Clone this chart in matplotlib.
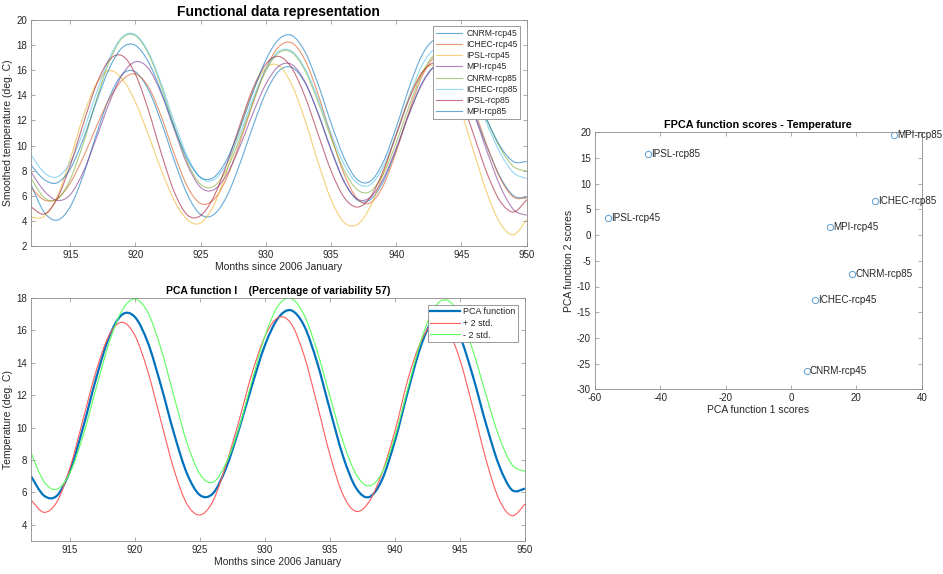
import matplotlib
matplotlib.use('Agg')
import matplotlib.pyplot as plt
from matplotlib.path import Path
from matplotlib.patches import PathPatch
from matplotlib.lines import Line2D

plt.rcParams['font.family'] = ['Liberation Sans', 'DejaVu Sans']
plt.rcParams['axes.unicode_minus'] = False

# ---------------- data ----------------
months = list(range(912, 951))

cnrm_rcp45 = [6.9, 4.7, 4.06, 5.11, 7.62, 10.85, 13.82, 15.68, 15.87, 14.44, 11.83, 8.77, 6.07, 4.51, 4.49,
              5.94, 8.51, 11.5, 14.2, 15.93, 16.22, 15.01, 12.62, 9.73, 7.17, 5.67, 5.68, 7.14, 9.69, 12.58,
              15.03, 16.38, 16.25, 14.82, 12.47, 9.78, 7.43, 6.0, 5.85]
ichec_rcp45 = [6.65, 5.67, 5.77, 7.0, 9.06, 11.48, 13.71, 15.22, 15.7, 14.67, 12.28, 9.3, 6.71, 5.38, 5.68,
               7.42, 10.21, 13.34, 16.13, 17.87, 18.17, 16.82, 14.11, 10.79, 7.74, 5.78, 5.43, 6.81, 9.52,
               12.76, 15.56, 17.1, 16.96, 15.39, 12.8, 9.87, 7.34, 5.89, 5.85]
ipsl_rcp45 = [4.3, 4.35, 5.9, 8.9, 12.3, 14.9, 15.96, 15.3, 13.47, 10.86, 8.02, 5.59, 4.08, 3.83, 5.22,
              7.97, 11.31, 14.32, 16.18, 16.36, 14.83, 12.04, 8.69, 5.7, 3.88, 3.7, 5.11, 7.77, 10.96, 13.91,
              15.89, 16.36, 15.2, 12.62, 9.31, 6.09, 3.75, 2.9, 4.1]
mpi_rcp45 = [7.9, 6.4, 5.63, 6.08, 7.89, 10.57, 13.4, 15.65, 16.67, 16.15, 14.11, 11.23, 8.44, 6.67, 6.47,
             7.68, 9.89, 12.53, 14.89, 16.33, 16.45, 15.08, 12.55, 9.64, 7.11, 5.74, 5.87, 7.35, 9.8, 12.57,
             14.95, 16.33, 16.32, 14.88, 12.39, 9.41, 6.69, 4.89, 4.45]
cnrm_rcp85 = [7.4, 5.86, 5.71, 7.28, 10.16, 13.61, 16.68, 18.56, 18.75, 17.3, 14.65, 11.47, 8.64, 6.91, 6.74,
              8.08, 10.53, 13.41, 15.94, 17.4, 17.41, 15.98, 13.49, 10.6, 8.04, 6.49, 6.34, 7.72, 10.24, 13.19,
              15.8, 17.3, 17.36, 16.22, 14.25, 11.89, 9.75, 8.32, 7.97]
ichec_rcp85 = [9.27, 7.85, 7.5, 8.64, 11.09, 14.15, 16.93, 18.66, 18.83, 17.44, 14.89, 11.83, 9.1, 7.43, 7.27,
               8.55, 10.91, 13.67, 16.11, 17.51, 17.51, 16.15, 13.75, 10.97, 8.5, 7.01, 6.88, 8.31, 10.92,
               13.92, 16.44, 17.72, 17.51, 16.18, 14.05, 11.59, 9.35, 7.83, 7.37]
ipsl_rcp85 = [5.13, 4.54, 5.76, 8.39, 11.71, 14.81, 16.81, 17.15, 15.69, 12.82, 9.34, 6.26, 4.46, 4.42, 5.9,
              8.5, 11.6, 14.5, 16.48, 17.1, 16.16, 13.92, 10.94, 8.0, 5.88, 5.1, 5.87, 7.98, 10.85, 13.73,
              15.83, 16.6, 15.8, 13.63, 10.66, 7.68, 5.51, 4.71, 5.69]
mpi_rcp85 = [8.45, 7.3, 7.03, 8.13, 10.5, 13.45, 16.14, 17.81, 17.98, 16.66, 14.25, 11.41, 8.91, 7.47, 7.46,
             8.86, 11.33, 14.21, 16.81, 18.47, 18.76, 17.47, 14.91, 11.81, 9.02, 7.3, 7.15, 8.68, 11.46, 14.65,
             17.25, 18.47, 18.11, 16.63, 14.39, 11.95, 9.89, 8.71, 8.74]

model_names = ['CNRM-rcp45', 'ICHEC-rcp45', 'IPSL-rcp45', 'MPI-rcp45',
               'CNRM-rcp85', 'ICHEC-rcp85', 'IPSL-rcp85', 'MPI-rcp85']
model_series = [cnrm_rcp45, ichec_rcp45, ipsl_rcp45, mpi_rcp45,
                cnrm_rcp85, ichec_rcp85, ipsl_rcp85, mpi_rcp85]

pca_function = [7.0, 5.8, 5.8, 7.34, 9.99, 13.01, 15.58, 16.97, 16.82, 15.22, 12.59, 9.64, 7.16, 5.83, 5.94,
                7.5, 9.9, 12.6, 15.1, 16.75, 17.24, 16.3, 14.05, 11.09, 8.24, 6.28, 5.71, 6.78, 9.2, 12.26,
                15.06, 16.79, 16.97, 15.63, 13.15, 10.23, 7.68, 6.15, 6.24]
plus_2std = [5.54, 4.77, 5.43, 7.52, 10.48, 13.47, 15.69, 16.5, 15.68, 13.43, 10.4, 7.4, 5.28, 4.61, 5.47,
             7.7, 10.43, 13.35, 15.64, 16.79, 16.43, 14.47, 11.48, 8.31, 5.85, 4.83, 5.42, 7.2, 9.8, 13.0,
             15.33, 16.48, 16.13, 14.17, 11.2, 8.03, 5.58, 4.56, 5.28]
minus_2std = [8.46, 6.66, 6.2, 7.22, 9.49, 12.4, 15.22, 17.23, 17.94, 17.09, 14.87, 11.92, 9.06, 7.12, 6.63,
              7.8, 9.99, 12.89, 15.65, 17.51, 17.97, 16.97, 14.75, 11.91, 9.14, 7.13, 6.4, 7.22, 9.45, 12.46,
              15.37, 17.37, 17.87, 16.89, 14.74, 12.02, 9.44, 7.71, 7.3]

score_names = ['CNRM-rcp45', 'ICHEC-rcp45', 'IPSL-rcp45', 'MPI-rcp45',
               'CNRM-rcp85', 'ICHEC-rcp85', 'IPSL-rcp85', 'MPI-rcp85']
pc1_scores = [4.8, 7.3, -56.0, 11.9, 18.8, 25.7, -43.9, 31.4]
pc2_scores = [-26.5, -12.7, 3.4, 1.5, -7.6, 6.7, 15.8, 19.4]

# ---------------- style ----------------
matlab_colors = ['#0072BD', '#D95319', '#EDB120', '#7E2F8E',
                 '#77AC30', '#4DBEEE', '#A2142F', '#0072BD']
edge_col = '#8a8a8a'
txt_col = '#262626'


def style(ax):
    ax.tick_params(direction='in', top=True, right=True, length=3, width=0.5,
                   color=edge_col, labelcolor=txt_col, labelsize=7, pad=3)
    for s in ax.spines.values():
        s.set_color(edge_col)
        s.set_linewidth(0.6)


def smooth_line(ax, x, y, **kw):
    """Draw the series as a smooth curve through its points (Catmull-Rom as cubic Bezier),
    in data coordinates of the axes."""
    n = len(x)
    verts = [(x[0], y[0])]
    codes = [Path.MOVETO]
    for i in range(n - 1):
        i0 = max(i - 1, 0)
        i3 = min(i + 2, n - 1)
        c1 = (x[i] + (x[i + 1] - x[i0]) / 6.0, y[i] + (y[i + 1] - y[i0]) / 6.0)
        c2 = (x[i + 1] - (x[i3] - x[i]) / 6.0, y[i + 1] - (y[i3] - y[i]) / 6.0)
        verts += [c1, c2, (x[i + 1], y[i + 1])]
        codes += [Path.CURVE4] * 3
    patch = PathPatch(Path(verts, codes), facecolor='none', **kw)
    ax.add_patch(patch)
    return patch


fig = plt.figure(figsize=(9.43, 5.74), dpi=100)

# ---- top-left: functional data ----
ax1 = fig.add_axes([31 / 943, 1 - 246 / 574, 495.7 / 943, 226 / 574])
handles1 = []
for name, ser, c in zip(model_names, model_series, matlab_colors):
    smooth_line(ax1, months, ser, edgecolor=c, lw=0.8, alpha=0.6)
    handles1.append(Line2D([], [], color=c, lw=0.8, alpha=0.6))
ax1.set_xlim(912, 950)
ax1.set_ylim(2, 20)
ax1.set_xticks([915, 920, 925, 930, 935, 940, 945, 950])
ax1.set_yticks(list(range(2, 21, 2)))
style(ax1)
ax1.set_title('Functional data representation', fontsize=10, fontweight='bold',
              color='black', pad=3)
ax1.set_xlabel('Months since 2006 January', fontsize=7.5, color=txt_col, labelpad=1)
ax1.set_ylabel('Smoothed temperature (deg. C)', fontsize=7.5, color=txt_col, labelpad=2)
leg1 = ax1.legend(handles1, model_names, loc='upper right', fontsize=6.2, frameon=True, fancybox=False,
                  edgecolor=edge_col, framealpha=1, handlelength=3.1, borderpad=0.3,
                  labelspacing=0.25, handletextpad=0.45, borderaxespad=0.75)
leg1.get_frame().set_linewidth(0.6)
for t in leg1.get_texts():
    t.set_color(txt_col)

# ---- bottom-left: PCA function ----
ax2 = fig.add_axes([31 / 943, 1 - 541 / 574, 494 / 943, 243 / 574])
pca_styles = [(pca_function, '#0072BD', 1.6, 'PCA function'),
              (plus_2std, '#ff5c5c', 0.8, '+ 2 std.'),
              (minus_2std, '#5cff5c', 0.8, '- 2 std.')]
handles2 = []
for ser, c, lw, lab in pca_styles:
    smooth_line(ax2, months, ser, edgecolor=c, lw=lw)
    handles2.append(Line2D([], [], color=c, lw=lw))
ax2.set_xlim(912, 950)
ax2.set_ylim(3, 18)
ax2.set_xticks([915, 920, 925, 930, 935, 940, 945, 950])
ax2.set_yticks(list(range(4, 19, 2)))
style(ax2)
ax2.set_title('PCA function I    (Percentage of variability 57)', fontsize=7.5,
              fontweight='bold', color='black', pad=3)
ax2.set_xlabel('Months since 2006 January', fontsize=7.5, color=txt_col, labelpad=1)
ax2.set_ylabel('Temperature (deg. C)', fontsize=7.5, color=txt_col, labelpad=2)
leg2 = ax2.legend(handles2, [p[3] for p in pca_styles], loc='upper right', fontsize=6.5,
                  frameon=True, fancybox=False, edgecolor=edge_col, framealpha=1,
                  handlelength=3.3, borderpad=0.3, labelspacing=0.28, handletextpad=0.35,
                  borderaxespad=0.75)
leg2.get_frame().set_linewidth(0.6)
for t in leg2.get_texts():
    t.set_color(txt_col)

# ---- right: scores ----
ax3 = fig.add_axes([595 / 943, 1 - 389.3 / 574, 326.7 / 943, 257 / 574])
ax3.plot(pc1_scores, pc2_scores, linestyle='none', marker='o', markersize=4.5,
         markerfacecolor='none', markeredgecolor='#5a9fd4', markeredgewidth=0.7)
for name, x, y in zip(score_names, pc1_scores, pc2_scores):
    ax3.annotate(name, (x, y), xytext=(2.3, 0), textcoords='offset points',
                 fontsize=7.1, va='center', ha='left', color=txt_col, annotation_clip=False)
ax3.set_xlim(-60, 40)
ax3.set_ylim(-30, 20)
ax3.set_xticks(list(range(-60, 41, 20)))
ax3.set_yticks(list(range(-30, 21, 5)))
style(ax3)
ax3.set_title('FPCA function scores - Temperature', fontsize=7.8, fontweight='bold',
              color='black', pad=3)
ax3.set_xlabel('PCA function 1 scores', fontsize=7.5, color=txt_col, labelpad=1)
ax3.set_ylabel('PCA function 2 scores', fontsize=7.5, color=txt_col, labelpad=2)

fig.savefig('out.png', dpi=100)
